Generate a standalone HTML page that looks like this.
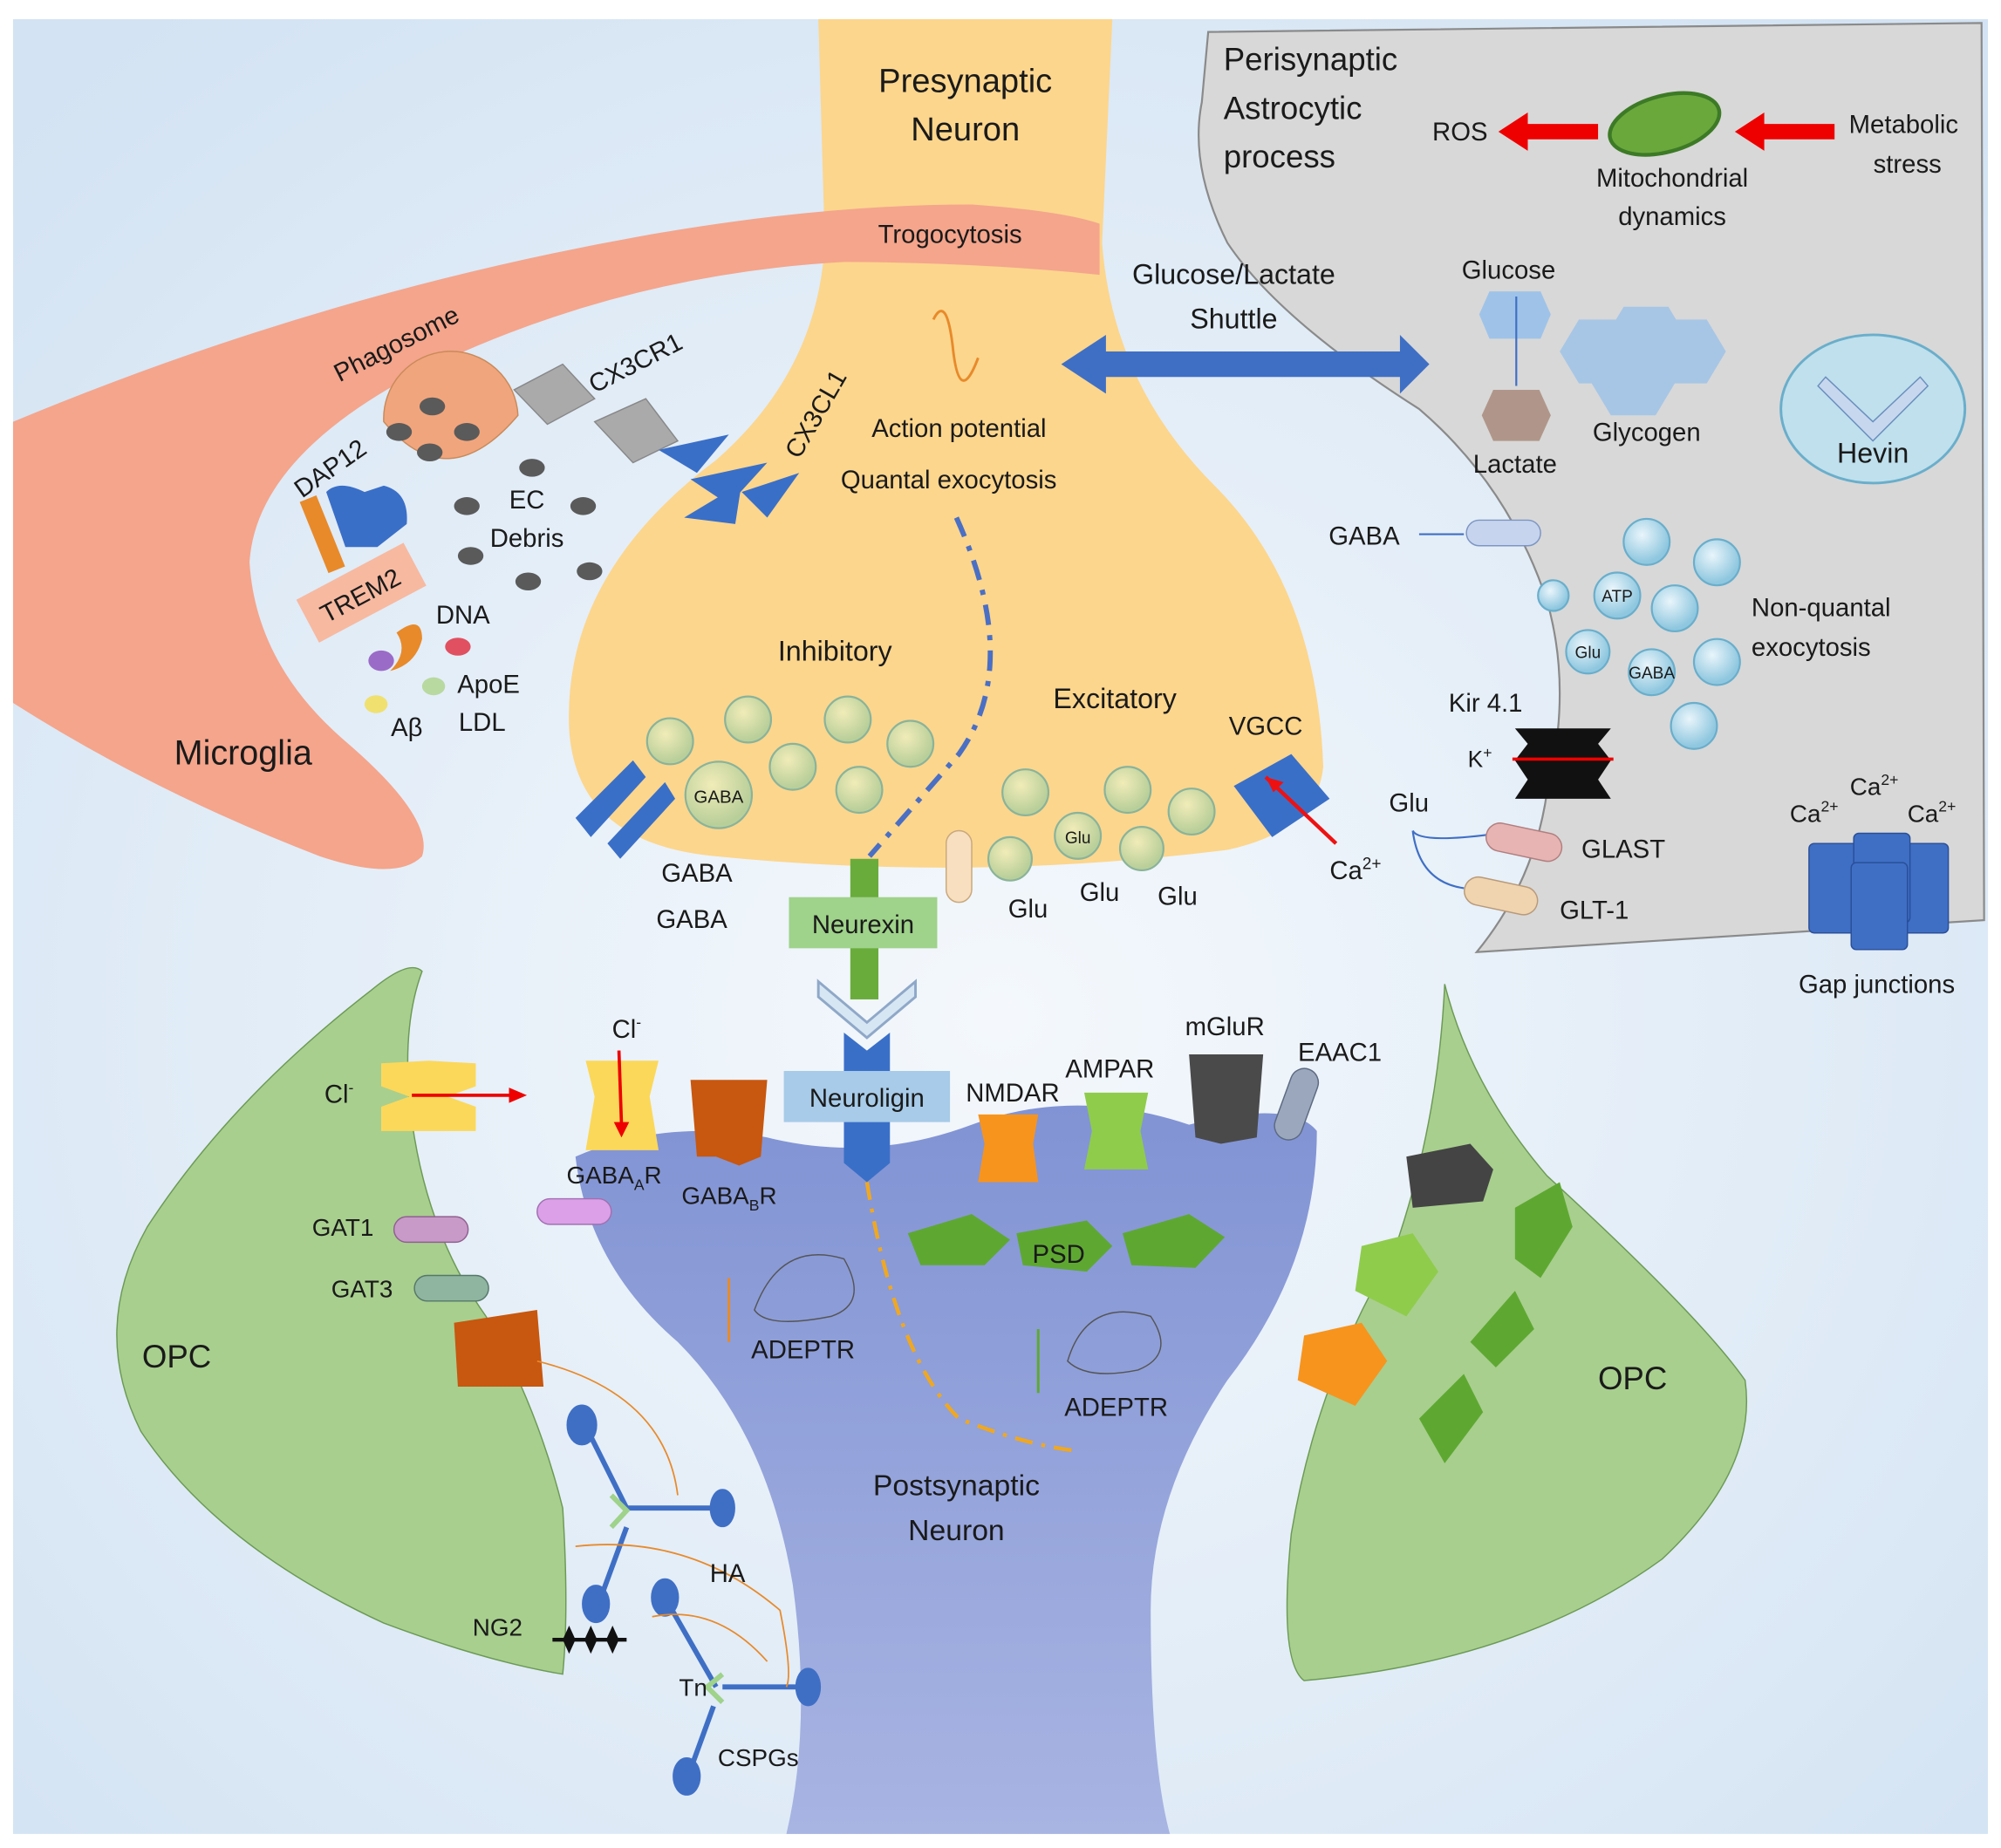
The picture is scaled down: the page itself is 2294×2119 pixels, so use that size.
<!DOCTYPE html>
<html><head><meta charset="utf-8"><style>
html,body{margin:0;padding:0;background:#fff}
svg{display:block}
text{font-family:"Liberation Sans",sans-serif;fill:#1a1a1a}
</style></head><body>
<svg width="2294" height="2119" viewBox="0 0 1565 1446" xmlns="http://www.w3.org/2000/svg">
<defs>
<radialGradient id="bg" cx="0.5" cy="0.55" r="0.7"><stop offset="0" stop-color="#f4f8fc"/><stop offset="1" stop-color="#d3e3f3"/></radialGradient>
<radialGradient id="ves" cx="0.4" cy="0.35" r="0.6"><stop offset="0" stop-color="#f1ecb8"/><stop offset="1" stop-color="#b9cf9a"/></radialGradient>
<radialGradient id="bves" cx="0.4" cy="0.35" r="0.6"><stop offset="0" stop-color="#e9f5fb"/><stop offset="1" stop-color="#8ec7df"/></radialGradient>
<linearGradient id="post" x1="0" y1="0" x2="0" y2="1"><stop offset="0" stop-color="#8193d4"/><stop offset="1" stop-color="#a8b4e2"/></linearGradient>
</defs>
<rect width="1565" height="1446" fill="#fff"/>
<rect x="10" y="15" width="1545" height="1420" fill="url(#bg)"/>
<path d="M640,15 L870,15 L862,190 Q870,300 950,380 Q1030,460 1035,600 Q1030,650 960,665 Q760,690 560,670 Q450,660 445,570 Q440,450 560,360 Q640,290 645,190 Z" fill="#fcd68d"/>
<path d="M10,330 Q250,230 500,185 Q640,160 760,160 Q830,165 860,175 L860,215 Q760,205 660,205 Q480,215 320,295 Q200,360 195,440 Q200,520 270,580 Q340,640 330,670 Q310,690 250,670 Q120,620 10,550 Z" fill="#f4a58c"/>
<path d="M945,25 L1550,18 L1552,720 L1155,745 Q1200,690 1210,620 Q1230,540 1210,470 Q1180,380 1110,320 Q1000,250 960,190 Q930,130 940,80 Z" fill="#d8d8d8" stroke="#8a8a8a" stroke-width="1.5"/>
<path d="M450,905 Q520,875 600,890 Q680,910 760,880 Q840,850 930,880 Q1010,860 1030,885 Q1030,990 960,1080 Q900,1170 900,1260 Q900,1380 915,1435 L615,1435 Q635,1350 620,1240 Q600,1120 530,1050 Q460,990 450,905 Z" fill="url(#post)"/>
<path d="M330,760 Q315,800 320,860 Q330,960 380,1030 Q420,1100 440,1180 Q445,1260 440,1310 Q380,1300 300,1270 Q170,1210 110,1120 Q70,1040 115,960 Q180,860 290,775 Q320,750 330,760 Z" fill="#a8cf8e" stroke="#6c9a55" stroke-width="1"/>
<path d="M1130,770 Q1150,850 1210,920 Q1330,1030 1365,1080 Q1375,1150 1300,1220 Q1190,1300 1020,1315 Q1000,1300 1010,1200 Q1030,1080 1090,980 Q1125,880 1130,770 Z" fill="#a8cf8e" stroke="#6c9a55" stroke-width="1"/>

<text x="755" y="72" font-size="26" text-anchor="middle">Presynaptic</text>
<text x="755" y="110" font-size="26" text-anchor="middle">Neuron</text>
<text x="743" y="190" font-size="20" text-anchor="middle">Trogocytosis</text>
<path d="M730,250 Q740,230 745,270 Q750,320 765,280" fill="none" stroke="#e88a2a" stroke-width="2"/>
<text x="750" y="342" font-size="20" text-anchor="middle">Action potential</text>
<text x="742" y="382" font-size="20" text-anchor="middle">Quantal exocytosis</text>
<path d="M748,405 Q800,520 750,590 L680,670" fill="none" stroke="#4a6fc4" stroke-width="4" stroke-dasharray="16,8,4,8"/>
<text x="653" y="517" font-size="22" text-anchor="middle">Inhibitory</text>
<text x="872" y="554" font-size="22" text-anchor="middle">Excitatory</text>
<g fill="url(#ves)" stroke="#8ab39a" stroke-width="1.5">
<circle cx="524" cy="580" r="18"/><circle cx="585" cy="563" r="18"/><circle cx="663" cy="563" r="18"/><circle cx="712" cy="582" r="18"/><circle cx="620" cy="600" r="18"/><circle cx="672" cy="618" r="18"/><circle cx="562" cy="622" r="26"/>
<circle cx="802" cy="620" r="18"/><circle cx="882" cy="618" r="18"/><circle cx="932" cy="635" r="18"/><circle cx="843" cy="654" r="18"/><circle cx="790" cy="672" r="17"/><circle cx="893" cy="664" r="17"/>
</g>
<text x="562" y="628" font-size="14" text-anchor="middle">GABA</text>
<text x="843" y="660" font-size="13" text-anchor="middle">Glu</text>
<rect x="740" y="650" width="20" height="56" rx="10" fill="#f7dfbf" stroke="#c9a87c"/>
<g fill="#3a6fc8"><path d="M450,640 L495,595 L505,608 L462,655 Z"/><path d="M475,660 L520,612 L528,625 L485,672 Z"/></g>
<text x="545" y="690" font-size="20" text-anchor="middle">GABA</text>
<text x="541" y="726" font-size="20" text-anchor="middle">GABA</text>
<text x="804" y="718" font-size="20" text-anchor="middle">Glu</text>
<text x="860" y="705" font-size="20" text-anchor="middle">Glu</text>
<text x="921" y="708" font-size="20" text-anchor="middle">Glu</text>
<g fill="#3a6fc8"><path d="M965,615 L1010,590 L1040,625 L995,655 Z"/></g>
<line x1="1045" y1="660" x2="990" y2="608" stroke="#e11" stroke-width="3"/>
<path d="M990,608 L1004,612 L996,620 Z" fill="#e11"/>
<text x="990" y="575" font-size="20" text-anchor="middle">VGCC</text>
<text x="1040" y="688" font-size="20">Ca<tspan font-size="13" dy="-8">2+</tspan></text>
<rect x="665" y="672" width="22" height="110" fill="#6aac3c"/>
<rect x="617" y="702" width="116" height="40" fill="#9fd28a"/>
<text x="675" y="730" font-size="20" text-anchor="middle">Neurexin</text>
<path d="M640,768 L678,800 L716,768 L716,780 L678,812 L640,780 Z" fill="#d7e6f3" stroke="#8fa8c8" stroke-width="2"/>
<path d="M660,808 L678,822 L696,808 L696,910 L678,925 L660,910 Z" fill="#3a6fc8"/>
<rect x="613" y="838" width="130" height="40" fill="#a7cbe8"/>
<text x="678" y="866" font-size="20" text-anchor="middle">Neuroligin</text>

<text x="313" y="275" font-size="20" transform="rotate(-27 313 275)" text-anchor="middle">Phagosome</text>
<path d="M300,330 A52,52 0 1 1 405,325 Q350,390 300,330 Z" fill="#f1a57c" stroke="#c98a5a"/>
<g fill="#5a5a5a"><ellipse cx="338" cy="318" rx="10" ry="7"/><ellipse cx="312" cy="338" rx="10" ry="7"/><ellipse cx="365" cy="338" rx="10" ry="7"/><ellipse cx="336" cy="354" rx="10" ry="7"/>
<ellipse cx="416" cy="366" rx="10" ry="7"/><ellipse cx="365" cy="396" rx="10" ry="7"/><ellipse cx="456" cy="396" rx="10" ry="7"/><ellipse cx="368" cy="435" rx="10" ry="7"/><ellipse cx="413" cy="455" rx="10" ry="7"/><ellipse cx="461" cy="447" rx="10" ry="7"/></g>
<text x="412" y="398" font-size="20" text-anchor="middle">EC</text>
<text x="412" y="428" font-size="20" text-anchor="middle">Debris</text>
<path d="M402,305 L440,285 L465,312 L428,332 Z" fill="#aaa" stroke="#888"/>
<path d="M465,330 L505,312 L530,345 L495,362 Z" fill="#aaa" stroke="#888"/>
<text x="500" y="290" font-size="20" transform="rotate(-27 500 290)" text-anchor="middle">CX3CR1</text>
<g fill="#3a6fc8"><path d="M515,352 L570,340 L545,370 Z"/><path d="M540,375 L600,362 L570,395 Z"/><path d="M535,405 L580,378 L575,410 Z"/><path d="M580,385 L625,370 L600,405 Z"/></g>
<text x="625" y="360" font-size="20" transform="rotate(-60 625 360)">CX3CL1</text>
<path d="M255,385 Q265,375 285,385 L300,380 Q320,385 318,410 L295,428 L270,428 Z" fill="#3a6fc8"/>
<rect x="245" y="388" width="14" height="60" fill="#e88a2a" transform="rotate(-22 252 418)"/>
<text x="262" y="372" font-size="20" transform="rotate(-35 262 372)" text-anchor="middle">DAP12</text>
<rect x="235" y="445" width="95" height="38" fill="#f7b9a0" transform="rotate(-28 282 464)"/>
<text x="285" y="472" font-size="20" transform="rotate(-28 285 472)" text-anchor="middle">TREM2</text>
<path d="M310,495 Q330,480 330,500 Q325,520 305,525 Q320,510 310,495 Z" fill="#e88a2a"/>
<ellipse cx="298" cy="517" rx="10" ry="8" fill="#9b6bc8"/>
<ellipse cx="358" cy="506" rx="10" ry="7" fill="#e05060"/>
<ellipse cx="339" cy="537" rx="9" ry="7" fill="#b8d9a0"/>
<ellipse cx="294" cy="551" rx="9" ry="7" fill="#f0e070"/>
<text x="362" y="488" font-size="20" text-anchor="middle" font-family="Liberation Serif">DNA</text>
<text x="382" y="542" font-size="20" text-anchor="middle" font-family="Liberation Serif">ApoE</text>
<text x="377" y="572" font-size="20" text-anchor="middle" font-family="Liberation Serif">LDL</text>
<text x="318" y="576" font-size="20" text-anchor="middle" font-family="Liberation Serif">Aβ</text>
<text x="190" y="598" font-size="27" text-anchor="middle">Microglia</text>

<text x="957" y="55" font-size="25">Perisynaptic</text>
<text x="957" y="93" font-size="25">Astrocytic</text>
<text x="957" y="131" font-size="25">process</text>
<text x="1142" y="110" font-size="20" text-anchor="middle">ROS</text>
<path d="M1250,97 L1195,97 L1195,88 L1172,103 L1195,118 L1195,109 L1250,109 Z" fill="#e00"/>
<path d="M1435,97 L1380,97 L1380,88 L1357,103 L1380,118 L1380,109 L1435,109 Z" fill="#e00"/>
<ellipse cx="1302" cy="97" rx="44" ry="22" fill="#6aa83c" stroke="#3d7a26" stroke-width="3" transform="rotate(-15 1302 97)"/>
<text x="1308" y="146" font-size="20" text-anchor="middle">Mitochondrial</text>
<text x="1308" y="176" font-size="20" text-anchor="middle">dynamics</text>
<text x="1489" y="104" font-size="20" text-anchor="middle">Metabolic</text>
<text x="1492" y="135" font-size="20" text-anchor="middle">stress</text>
<text x="965" y="222" font-size="22" text-anchor="middle">Glucose/Lactate</text>
<text x="965" y="257" font-size="22" text-anchor="middle">Shuttle</text>
<path d="M830,285 L865,262 L865,275 L1095,275 L1095,262 L1118,285 L1095,308 L1095,295 L865,295 L865,308 Z" fill="#3f6fc5"/>
<text x="1180" y="218" font-size="20" text-anchor="middle">Glucose</text>
<polygon points="1165,228 1205,228 1213,246 1205,265 1165,265 1157,246" fill="#9fc3e8"/>
<line x1="1186" y1="232" x2="1186" y2="302" stroke="#3f6fc5" stroke-width="1.5"/>
<polygon points="1168,305 1204,305 1213,325 1204,345 1168,345 1159,325" fill="#b0968a"/>
<text x="1185" y="370" font-size="20" text-anchor="middle">Lactate</text>
<g fill="#9fc3e8" opacity="0.85"><polygon points="1235,250 1270,250 1285,275 1270,300 1235,300 1220,275"/><polygon points="1270,240 1305,240 1320,265 1305,290 1270,290 1255,265"/><polygon points="1300,250 1335,250 1350,275 1335,300 1300,300 1285,275"/><polygon points="1260,275 1295,275 1310,300 1295,325 1260,325 1245,300"/></g>
<text x="1288" y="345" font-size="20" text-anchor="middle">Glycogen</text>
<ellipse cx="1465" cy="320" rx="72" ry="58" fill="#bfe0ec" stroke="#6aaecb" stroke-width="2"/>
<path d="M1428,295 L1465,330 L1502,295 L1508,302 L1465,345 L1422,302 Z" fill="#c7d8ee" stroke="#6b8fbf"/>
<text x="1465" y="362" font-size="22" text-anchor="middle">Hevin</text>
<text x="1067" y="426" font-size="20" text-anchor="middle">GABA</text>
<line x1="1110" y1="418" x2="1145" y2="418" stroke="#3f6fc5" stroke-width="1.5"/>
<rect x="1147" y="407" width="58" height="20" rx="10" fill="#c6d4ee" stroke="#7c95c2"/>
<g fill="url(#bves)" stroke="#6aaecb" stroke-width="1.5">
<circle cx="1288" cy="424" r="18"/><circle cx="1343" cy="440" r="18"/><circle cx="1265" cy="466" r="18"/><circle cx="1310" cy="476" r="18"/><circle cx="1242" cy="510" r="17"/><circle cx="1292" cy="526" r="18"/><circle cx="1343" cy="518" r="18"/><circle cx="1325" cy="568" r="18"/><circle cx="1215" cy="466" r="12"/></g>
<text x="1265" y="471" font-size="13" text-anchor="middle">ATP</text>
<text x="1242" y="515" font-size="13" text-anchor="middle">Glu</text>
<text x="1292" y="531" font-size="13" text-anchor="middle">GABA</text>
<text x="1370" y="482" font-size="20">Non-quantal</text>
<text x="1370" y="513" font-size="20">exocytosis</text>
<text x="1162" y="557" font-size="20" text-anchor="middle">Kir 4.1</text>
<path d="M1185,570 L1260,570 L1250,582 L1260,595 L1250,610 L1260,625 L1185,625 L1195,610 L1185,595 L1195,582 Z" fill="#111"/>
<line x1="1183" y1="594" x2="1262" y2="594" stroke="#e00" stroke-width="2.5"/>
<text x="1148" y="600" font-size="18">K<tspan font-size="12" dy="-7">+</tspan></text>
<text x="1102" y="635" font-size="20" text-anchor="middle">Glu</text>
<path d="M1105,650 Q1110,660 1165,653 M1105,650 Q1110,690 1145,695" fill="none" stroke="#3f6fc5" stroke-width="1.5"/>
<rect x="1162" y="648" width="60" height="22" rx="11" fill="#e8b3b3" stroke="#b07f7f" transform="rotate(12 1192 659)"/>
<text x="1237" y="671" font-size="20">GLAST</text>
<rect x="1145" y="690" width="58" height="22" rx="11" fill="#f0d4b0" stroke="#b89a7a" transform="rotate(12 1174 701)"/>
<text x="1220" y="719" font-size="20">GLT-1</text>
<text x="1400" y="643" font-size="19">Ca<tspan font-size="12" dy="-8">2+</tspan></text>
<text x="1447" y="622" font-size="19">Ca<tspan font-size="12" dy="-8">2+</tspan></text>
<text x="1492" y="643" font-size="19">Ca<tspan font-size="12" dy="-8">2+</tspan></text>
<g fill="#3f6fc5" stroke="#2a4f98">
<rect x="1415" y="660" width="44" height="70" rx="4"/><rect x="1480" y="660" width="44" height="70" rx="4"/><rect x="1450" y="652" width="44" height="70" rx="4"/><rect x="1448" y="675" width="44" height="68" rx="4"/></g>
<text x="1468" y="777" font-size="20" text-anchor="middle">Gap junctions</text>

<text x="265" y="863" font-size="20" text-anchor="middle">Cl<tspan font-size="12" dy="-8">-</tspan></text>
<path d="M298,832 L335,830 L372,832 L372,850 L350,858 L372,866 L372,885 L298,885 L298,866 L320,858 L298,850 Z" fill="#fbd85a"/>
<line x1="322" y1="857" x2="400" y2="857" stroke="#e00" stroke-width="2.5"/><path d="M398,851 L412,857 L398,863 Z" fill="#e00"/>
<text x="490" y="812" font-size="20" text-anchor="middle">Cl<tspan font-size="12" dy="-8">-</tspan></text>
<path d="M458,830 L515,830 L508,858 L515,900 L458,900 L465,858 Z" fill="#fbd85a"/>
<line x1="484" y1="822" x2="486" y2="880" stroke="#e00" stroke-width="2.5"/><path d="M480,878 L486,890 L492,878 Z" fill="#e00"/>
<text x="443" y="926" font-size="19">GABA<tspan font-size="12" dy="5">A</tspan><tspan dy="-5">R</tspan></text>
<path d="M540,845 L600,845 L595,905 L578,912 L560,905 L545,905 Z" fill="#c8570f"/>
<text x="533" y="942" font-size="19">GABA<tspan font-size="12" dy="5">B</tspan><tspan dy="-5">R</tspan></text>
<rect x="420" y="938" width="58" height="20" rx="10" fill="#dba0e8" stroke="#a070b0"/>
<text x="792" y="862" font-size="20" text-anchor="middle">NMDAR</text>
<path d="M765,872 L812,872 L808,895 L812,925 L765,925 L770,895 Z" fill="#f7941d"/>
<text x="868" y="843" font-size="20" text-anchor="middle">AMPAR</text>
<path d="M848,855 L898,855 L892,885 L898,915 L848,915 L854,885 Z" fill="#8fcc4c"/>
<text x="958" y="810" font-size="20" text-anchor="middle">mGluR</text>
<path d="M930,825 L988,825 L983,890 L955,895 L935,890 Z" fill="#4a4a4a"/>
<rect x="1003" y="835" width="22" height="58" rx="11" fill="#9aa7bd" stroke="#5c6a82" transform="rotate(20 1014 864)"/>
<text x="1048" y="830" font-size="20" text-anchor="middle">EAAC1</text>
<g fill="#5ea832"><path d="M710,965 L760,950 L790,970 L770,990 L720,990 Z"/><path d="M795,965 L850,955 L870,975 L850,995 L800,990 Z"/><path d="M878,965 L930,950 L958,968 L935,992 L885,990 Z"/></g>
<text x="828" y="988" font-size="20" text-anchor="middle">PSD</text>
<path d="M590,1025 Q610,970 660,985 Q680,1020 650,1030 Q600,1040 590,1025 Z" fill="none" stroke="#555"/>
<line x1="570" y1="1000" x2="570" y2="1050" stroke="#e88a2a" stroke-width="2"/>
<text x="628" y="1063" font-size="20" text-anchor="middle">ADEPTR</text>
<path d="M835,1065 Q850,1015 900,1030 Q920,1060 890,1072 Q850,1080 835,1065 Z" fill="none" stroke="#555"/>
<line x1="812" y1="1040" x2="812" y2="1090" stroke="#5ea832" stroke-width="2"/>
<text x="873" y="1108" font-size="20" text-anchor="middle">ADEPTR</text>
<path d="M678,925 Q700,1060 750,1110 Q800,1130 840,1135" fill="none" stroke="#f0a820" stroke-width="3" stroke-dasharray="14,7,3,7"/>
<text x="748" y="1170" font-size="23" text-anchor="middle">Postsynaptic</text>
<text x="748" y="1205" font-size="23" text-anchor="middle">Neuron</text>

<text x="138" y="1070" font-size="25" text-anchor="middle">OPC</text>
<text x="268" y="967" font-size="19" text-anchor="middle">GAT1</text>
<rect x="308" y="952" width="58" height="20" rx="10" fill="#c89ac8" stroke="#906090"/>
<text x="283" y="1015" font-size="19" text-anchor="middle">GAT3</text>
<rect x="324" y="998" width="58" height="20" rx="10" fill="#8fb4a0" stroke="#557868"/>
<path d="M355,1035 L420,1025 L425,1085 L358,1085 Z" fill="#c8570f"/>
<g stroke="#3f6fc5" stroke-width="4" fill="#3f6fc5">
<line x1="455" y1="1110" x2="490" y2="1180"/><ellipse cx="455" cy="1115" rx="10" ry="14"/>
<line x1="490" y1="1180" x2="565" y2="1180"/><ellipse cx="565" cy="1180" rx="8" ry="13"/>
<line x1="490" y1="1195" x2="468" y2="1255"/><ellipse cx="466" cy="1255" rx="9" ry="13"/>
<line x1="520" y1="1250" x2="560" y2="1320"/><ellipse cx="520" cy="1250" rx="9" ry="13"/>
<line x1="565" y1="1320" x2="632" y2="1320"/><ellipse cx="632" cy="1320" rx="8" ry="13"/>
<line x1="558" y1="1335" x2="538" y2="1390"/><ellipse cx="537" cy="1390" rx="9" ry="13"/></g>
<path d="M478,1170 L490,1182 L478,1195 M565,1310 L553,1320 L565,1332" stroke="#9fd28a" stroke-width="4" fill="none"/>
<path d="M420,1065 Q520,1090 530,1170 M450,1210 Q540,1200 610,1260 Q620,1310 615,1320 M510,1265 Q560,1255 600,1300" fill="none" stroke="#e88a2a" stroke-width="1.2"/>
<text x="569" y="1238" font-size="20" text-anchor="middle">HA</text>
<text x="389" y="1280" font-size="19" text-anchor="middle">NG2</text>
<line x1="432" y1="1283" x2="490" y2="1283" stroke="#111" stroke-width="3"/>
<g fill="#111"><path d="M445,1272 L450,1283 L445,1294 L440,1283 Z"/><path d="M462,1272 L467,1283 L462,1294 L457,1283 Z"/><path d="M479,1272 L484,1283 L479,1294 L474,1283 Z"/></g>
<text x="542" y="1327" font-size="19" text-anchor="middle">Tn</text>
<text x="593" y="1382" font-size="19" text-anchor="middle">CSPGs</text>

<text x="1277" y="1087" font-size="25" text-anchor="middle">OPC</text>
<path d="M1100,905 L1150,895 L1168,915 L1160,940 L1105,945 Z" fill="#444"/>
<path d="M1065,975 L1105,965 L1125,995 L1100,1030 L1060,1010 Z" fill="#8fcc4c"/>
<path d="M1020,1045 L1065,1035 L1085,1065 L1060,1100 L1015,1080 Z" fill="#f7941d"/>
<g fill="#5ea832"><path d="M1185,945 L1220,925 L1230,960 L1205,1000 L1185,985 Z"/><path d="M1150,1050 L1185,1010 L1200,1040 L1170,1070 Z"/><path d="M1110,1110 L1145,1075 L1160,1105 L1130,1145 Z"/></g>
</svg>
</body></html>
